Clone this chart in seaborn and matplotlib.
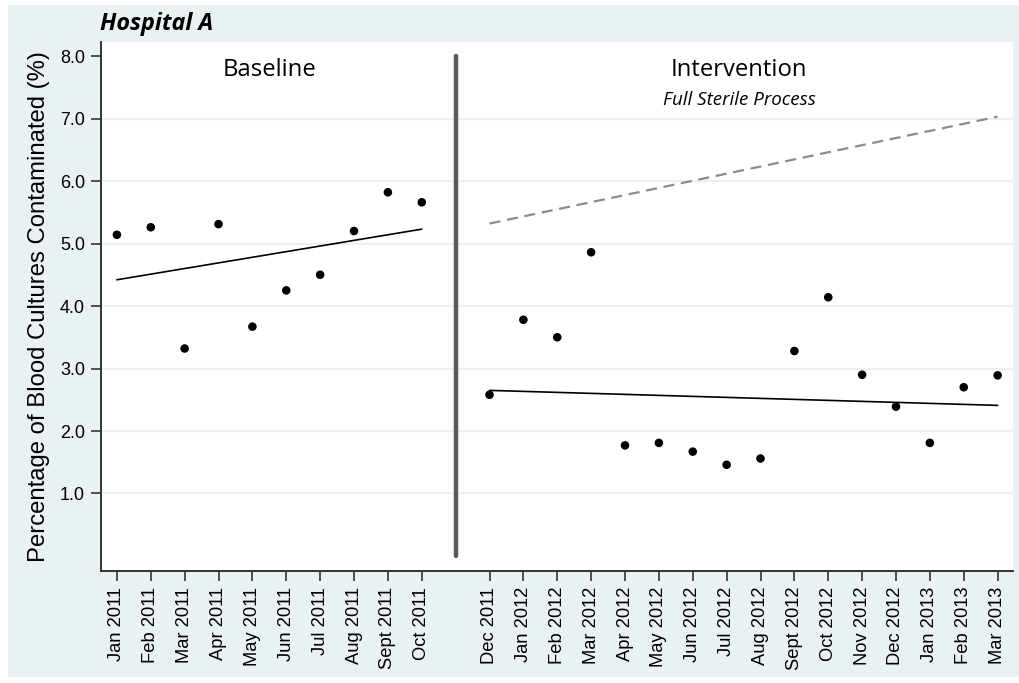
import numpy as np
import pandas as pd
import matplotlib.pyplot as plt
import seaborn as sns
from matplotlib.patches import Rectangle

# data
baseline_months = ['Jan 2011', 'Feb 2011', 'Mar 2011', 'Apr 2011', 'May 2011',
                   'Jun 2011', 'Jul 2011', 'Aug 2011', 'Sept 2011', 'Oct 2011']
baseline_pct = [5.14, 5.26, 3.32, 5.31, 3.67, 4.25, 4.50, 5.20, 5.82, 5.66]

intervention_months = ['Dec 2011', 'Jan 2012', 'Feb 2012', 'Mar 2012', 'Apr 2012',
                       'May 2012', 'Jun 2012', 'Jul 2012', 'Aug 2012', 'Sept 2012',
                       'Oct 2012', 'Nov 2012', 'Dec 2012', 'Jan 2013', 'Feb 2013',
                       'Mar 2013']
intervention_pct = [2.58, 3.78, 3.50, 4.86, 1.77, 1.81, 1.67, 1.46, 1.56, 3.28,
                    4.14, 2.90, 2.39, 1.81, 2.70, 2.89]

# fitted trend lines (first / last month values)
baseline_trend = [4.42, 5.23]
intervention_trend = [2.65, 2.41]
expected_trend = [5.32, 7.03]

y_ticks = [1.0, 2.0, 3.0, 4.0, 5.0, 6.0, 7.0, 8.0]

# positions: one empty slot (Nov 2011) between the two phases
x_base = np.arange(len(baseline_months))
x_int = np.arange(len(intervention_months)) + len(baseline_months) + 1
x_break = len(baseline_months)

base_df = pd.DataFrame({'x': x_base, 'pct': baseline_pct})
int_df = pd.DataFrame({'x': x_int, 'pct': intervention_pct})
base_fit = pd.DataFrame({'x': [x_base[0], x_base[-1]], 'pct': baseline_trend})
int_fit = pd.DataFrame({'x': [x_int[0], x_int[-1]], 'pct': intervention_trend})
exp_fit = pd.DataFrame({'x': [x_int[0], x_int[-1]], 'pct': expected_trend})

sns.set_theme(style="white")
plt.rcParams['font.family'] = ['Liberation Sans', 'DejaVu Sans']
plt.rcParams['text.color'] = 'black'
plt.rcParams['axes.labelcolor'] = 'black'
plt.rcParams['xtick.color'] = 'black'
plt.rcParams['ytick.color'] = 'black'

bg = '#e9f1f3'
fig = plt.figure(figsize=(10.2, 6.83), dpi=100)
fig.patch.set_facecolor('white')
fig.add_artist(Rectangle((8 / 1020, 6 / 683), 1 - 8 / 1020, 1 - 11 / 683,
                         transform=fig.transFigure, facecolor=bg,
                         edgecolor='none', zorder=-5))
ax = fig.add_axes([0.099, 0.164, 0.894, 0.775])
ax.set_facecolor('white')

for yv in y_ticks[:-1]:
    ax.axhline(yv, color=bg, lw=1.6, zorder=0)

sns.lineplot(data=exp_fit, x='x', y='pct', ax=ax, color='#8c8c8c', lw=1.6,
             linestyle=(0, (5, 3)), zorder=2)
sns.lineplot(data=base_fit, x='x', y='pct', ax=ax, color='black', lw=1.2, zorder=2)
sns.lineplot(data=int_fit, x='x', y='pct', ax=ax, color='black', lw=1.2, zorder=2)
sns.scatterplot(data=base_df, x='x', y='pct', ax=ax, color='black', s=38,
                edgecolor='none', zorder=3)
sns.scatterplot(data=int_df, x='x', y='pct', ax=ax, color='black', s=38,
                edgecolor='none', zorder=3)

ax.plot([x_break, x_break], [0.0, 8.0], color='#5a5a5a', lw=3.2,
        solid_capstyle='round', zorder=2)

ax.set_xlim(-0.47, x_int[-1] + 0.45)
ax.set_ylim(-0.24, 8.23)
ax.set_xticks(list(x_base) + list(x_int))
ax.set_xticklabels(baseline_months + intervention_months, rotation=90,
                   fontsize=13.2)
ax.set_yticks(y_ticks)
ax.set_yticklabels([f'{v:.1f}' for v in y_ticks], fontsize=13)
ax.tick_params(axis='both', direction='out', length=7, width=1.2,
               color='#333333', pad=4.5, bottom=True, left=True)
ax.set_xlabel('')
ax.set_ylabel('Percentage of Blood Cultures Contaminated (%)', fontsize=17.2,
              labelpad=7)

for side in ['top', 'right']:
    ax.spines[side].set_visible(False)
for side in ['left', 'bottom']:
    ax.spines[side].set_color('#333333')
    ax.spines[side].set_linewidth(1.4)

ax.text(4.5, 7.68, 'Baseline', ha='center', va='baseline', fontsize=17.2,
        family='Open Sans')
ax.text(18.35, 7.68, 'Intervention', ha='center', va='baseline', fontsize=17.2,
        family='Open Sans')
ax.text(18.38, 7.21, 'Full Sterile Process', ha='center', va='baseline',
        fontsize=13.5, family='Open Sans', style='italic')

fig.text(0.098, 1 - 29.5 / 683, 'Hospital A', ha='left', va='baseline',
         fontsize=16.8, family='Open Sans', weight='bold', style='italic')

fig.savefig('out.png', dpi=100)
